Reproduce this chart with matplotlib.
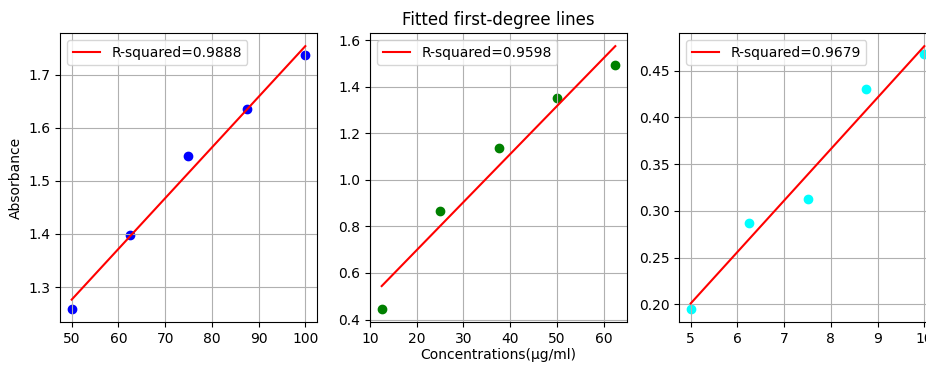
import numpy as np
import matplotlib
matplotlib.use("Agg")
import matplotlib.pyplot as plt

# Concentration series (x) and measured absorbance (y) for three samples
conc_a = [50, 62.5, 75, 87.5, 100]
abs_a = [1.259, 1.398, 1.546, 1.635, 1.737]

conc_b = [12.5, 25, 37.5, 50, 62.5]
abs_b = [0.446, 0.868, 1.137, 1.351, 1.492]

conc_c = [5, 6.25, 7.5, 8.75, 10]
abs_c = [0.195, 0.287, 0.313, 0.430, 0.468]

r_squared = [0.9888, 0.9598, 0.9679]
point_colors = ["blue", "green", "cyan"]

fig = plt.figure(figsize=(9.26, 3.65), dpi=100)
W, H = 926, 365
boxes = [(60, 33, 257, 289), (370, 33, 257, 289), (679, 33, 257, 289)]
axes = [fig.add_axes([l / W, 1 - (t + h) / H, w / W, h / H]) for l, t, w, h in boxes]

datasets = [(conc_a, abs_a), (conc_b, abs_b), (conc_c, abs_c)]
for ax, (x, y), r2, c in zip(axes, datasets, r_squared, point_colors):
    x = np.asarray(x, dtype=float)
    y = np.asarray(y, dtype=float)
    slope, intercept = np.polyfit(x, y, 1)
    ax.scatter(x, y, color=c)
    ax.plot(x, slope * x + intercept, color="red", label=f"R-squared={r2:.4f}")
    ax.legend(loc="upper left")
    ax.grid(True)

axes[0].set_ylabel("Absorbance")
axes[1].set_xlabel("Concentrations(µg/ml)", labelpad=2)
axes[1].set_title("Fitted first-degree lines")

fig.savefig("out.png", dpi=100)
